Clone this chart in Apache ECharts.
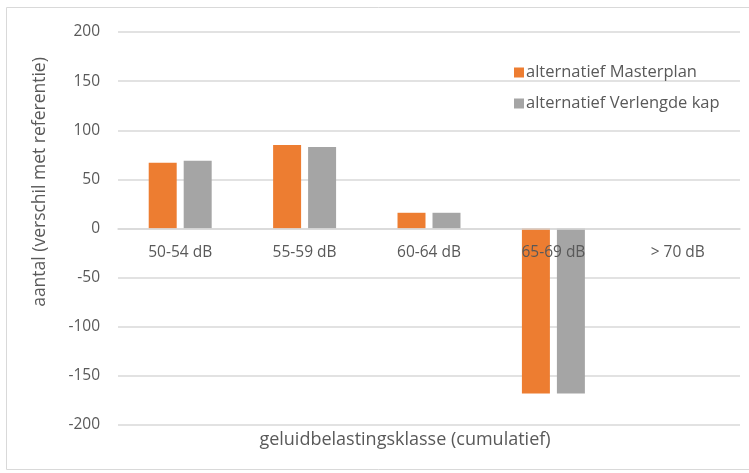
<!DOCTYPE html>
<html>
<head>
<meta charset="utf-8">
<script src="https://cdn.jsdelivr.net/npm/echarts@6/dist/echarts.min.js"></script>
<style>
  html, body { margin: 0; padding: 0; background: #fff; }
  #chart { width: 749px; height: 473px; }
</style>
</head>
<body>
<div id="chart"></div>
<script>
// Geluidbelastingsklassen (cumulatief) en verschil met referentie per alternatief
const categories = ['50-54 dB', '55-59 dB', '60-64 dB', '65-69 dB', '> 70 dB'];
const masterplan = [67, 85, 16, -168, 0];
const verlengdeKap = [69, 83, 16, -168, 0];
const seriesNames = ['alternatief Masterplan', 'alternatief Verlengde kap'];
const yTicks = { min: -200, max: 200, interval: 50 };

const FONT = '"Open Sans", "Noto Sans", sans-serif';
const TEXT = '#595959';
const GRID = '#d9d9d9';

// plot box
const GRID_TOP = 32, GRID_BOTTOM = 48, HEIGHT = 473;
const plotH = HEIGHT - GRID_TOP - GRID_BOTTOM;
// shift the category axis up from the bottom edge to the value 0
const zeroOffset = -plotH * (0 - yTicks.min) / (yTicks.max - yTicks.min);

const chart = echarts.init(document.getElementById('chart'));
chart.setOption({
  animation: false,
  textStyle: { fontFamily: FONT },
  grid: { left: 118, right: 9, top: GRID_TOP, bottom: GRID_BOTTOM, containLabel: false },
  legend: {
    orient: 'vertical',
    left: 509,
    top: 59,
    itemGap: 14,
    itemWidth: 10,
    itemHeight: 10,
    icon: 'rect',
    textStyle: { fontFamily: FONT, fontSize: 16.5, color: TEXT, padding: [0, 0, 0, -3] },
    data: seriesNames
  },
  xAxis: {
    type: 'category',
    data: categories,
    offset: zeroOffset,
    z: 10,
    axisLine: { onZero: false, lineStyle: { color: GRID, width: 1.5 } },
    axisTick: { show: false },
    axisLabel: { fontFamily: FONT, fontSize: 15.5, color: TEXT, margin: 16 }
  },
  yAxis: {
    type: 'value',
    min: yTicks.min,
    max: yTicks.max,
    interval: yTicks.interval,
    axisLine: { show: false },
    axisTick: { show: false },
    axisLabel: { fontFamily: FONT, fontSize: 15.5, color: TEXT, margin: 18 },
    splitLine: { lineStyle: { color: GRID, width: 1.5 } }
  },
  series: [
    {
      name: seriesNames[0],
      type: 'bar',
      data: masterplan,
      barWidth: '22.5%',
      barGap: '25%',
      itemStyle: { color: '#ED7D31' }
    },
    {
      name: seriesNames[1],
      type: 'bar',
      data: verlengdeKap,
      barWidth: '22.5%',
      barGap: '25%',
      itemStyle: { color: '#A5A5A5' }
    }
  ],
  graphic: [
    {
      type: 'rect',
      shape: { x: 6.5, y: 7.5, width: 750, height: 462 },
      style: { fill: 'none', stroke: GRID, lineWidth: 1 },
      silent: true
    },
    {
      type: 'text',
      x: 40,
      y: 182,
      rotation: Math.PI / 2,
      style: {
        text: 'aantal (verschil met referentie)',
        fontFamily: FONT,
        fontSize: 17.5,
        fill: TEXT,
        align: 'center',
        verticalAlign: 'middle'
      }
    },
    {
      type: 'text',
      x: 405,
      y: 440,
      style: {
        text: 'geluidbelastingsklasse (cumulatief)',
        fontFamily: FONT,
        fontSize: 18,
        fill: TEXT,
        align: 'center',
        verticalAlign: 'middle'
      }
    }
  ]
});
</script>
</body>
</html>
